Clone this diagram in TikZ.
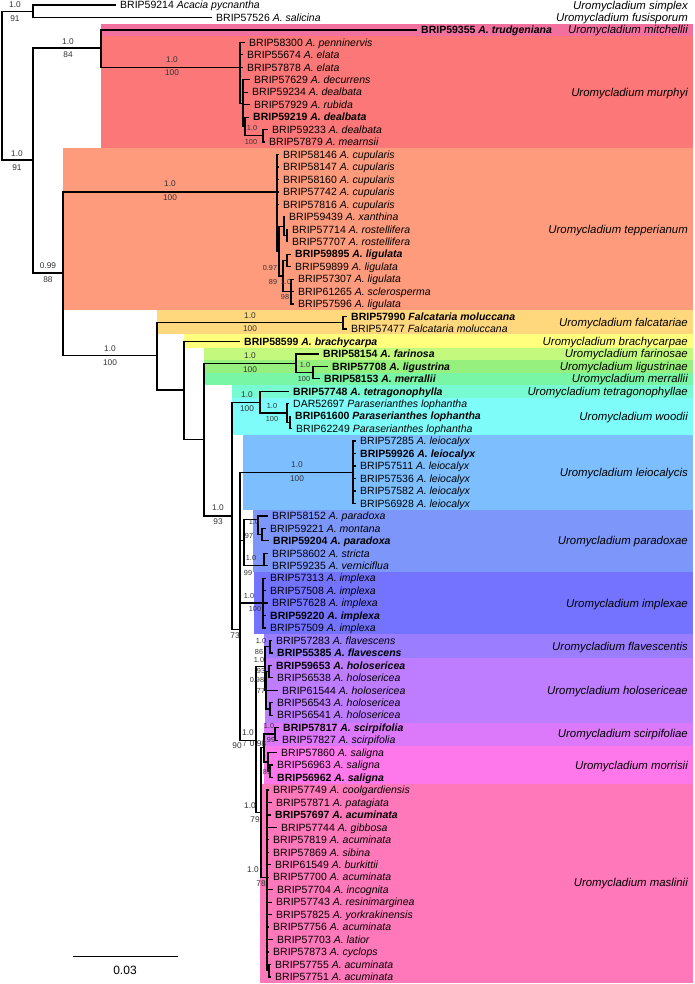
\documentclass[tikz,border=0pt]{standalone}
\usepackage{fontspec}
\setmainfont{Liberation Sans}
\usepackage{tikz}

\definecolor{cmitch}{RGB}{242,112,158}
\definecolor{cmurph}{RGB}{252,120,120}
\definecolor{ctepp}{RGB}{255,155,125}
\definecolor{cfalc}{RGB}{255,215,125}
\definecolor{cbrach}{RGB}{255,255,125}
\definecolor{cfari}{RGB}{195,250,125}
\definecolor{cligu}{RGB}{150,240,125}
\definecolor{cmerr}{RGB}{120,245,165}
\definecolor{ctetr}{RGB}{120,250,210}
\definecolor{cwood}{RGB}{125,252,250}
\definecolor{cleio}{RGB}{125,190,255}
\definecolor{cpara}{RGB}{125,150,250}
\definecolor{cimpl}{RGB}{115,115,255}
\definecolor{cflav}{RGB}{155,125,255}
\definecolor{cholo}{RGB}{190,125,255}
\definecolor{cscir}{RGB}{220,120,250}
\definecolor{cmorr}{RGB}{255,120,235}
\definecolor{cmasl}{RGB}{255,120,185}

\begin{document}
\begin{tikzpicture}[x=1pt, y=-12.46pt,
    branch/.style={draw=black, line width=1.25pt},
    tip/.style={anchor=west, inner xsep=4pt, inner ysep=0pt, text height=7.5pt, text depth=0pt, font=\fontsize{10.5}{12}\selectfont},
    tipb/.style={tip, font=\fontsize{10.5}{12}\selectfont\bfseries},
    clade/.style={anchor=east, inner sep=0pt, text height=8pt, text depth=0pt, font=\fontsize{11.4}{13}\selectfont\itshape},
    supp/.style={inner sep=0pt, text=black!80, text height=5.9pt, text depth=0pt, font=\fontsize{8.3}{10}\selectfont},
    supps/.style={supp, text height=5.2pt, font=\fontsize{7.3}{9}\selectfont},
]
\useasboundingbox (0,0.5987) rectangle (694,79.57);
\fill[white] (0,0.5987) rectangle (694,79.57);

% background bands
\fill[cmitch] (101,2.5) rectangle (693,3.5);
\fill[cmurph] (101,3.5) rectangle (693,12.5);
\fill[ctepp] (63,12.5) rectangle (693,25.5);
\fill[cfalc] (157,25.5) rectangle (693,27.4);
\fill[cbrach] (184,27.4) rectangle (693,28.5);
\fill[cfari] (204,28.5) rectangle (693,29.5);
\fill[cligu] (204,29.5) rectangle (693,30.5);
\fill[cmerr] (204,30.5) rectangle (693,31.5);
\fill[ctetr] (232,31.5) rectangle (693,32.5);
\fill[cwood] (232,32.5) rectangle (693,35.5);
\fill[cleio] (243,35.5) rectangle (693,41.5);
\fill[cpara] (253,41.5) rectangle (693,46.5);
\fill[cimpl] (254,46.5) rectangle (693,51.5);
\fill[cflav] (264,51.5) rectangle (693,53.4);
\fill[cholo] (265,53.4) rectangle (693,58.6);
\fill[cscir] (264,58.6) rectangle (693,60.5);
\fill[cmorr] (264,60.5) rectangle (693,63.5);
\fill[cmasl] (260,63.5) rectangle (693,79.45);

% tips
\node[tip] (b59214) at (116,1) {BRIP59214 \textit{Acacia pycnantha}};
\node[tip] (b57526) at (212,2) {BRIP57526 \textit{A. salicina}};
\node[tipb] (b59355) at (417,3) {BRIP59355 \textit{A. trudgeniana}};
\node[tip] (b58300) at (245,4) {BRIP58300 \textit{A. penninervis}};
\node[tip] (b55674) at (243,5) {BRIP55674 \textit{A. elata}};
\node[tip] (b57878) at (243,6) {BRIP57878 \textit{A. elata}};
\node[tip] (b57629) at (250,7) {BRIP57629 \textit{A. decurrens}};
\node[tip] (b59234) at (248,8) {BRIP59234 \textit{A. dealbata}};
\node[tip] (b57929) at (250,9) {BRIP57929 \textit{A. rubida}};
\node[tipb] (b59219) at (249,10) {BRIP59219 \textit{A. dealbata}};
\node[tip] (b59233) at (268,11) {BRIP59233 \textit{A. dealbata}};
\node[tip] (b57879) at (265,12) {BRIP57879 \textit{A. mearnsii}};
\node[tip] (b58146) at (279,13) {BRIP58146 \textit{A. cupularis}};
\node[tip] (b58147) at (279,14) {BRIP58147 \textit{A. cupularis}};
\node[tip] (b58160) at (279,15) {BRIP58160 \textit{A. cupularis}};
\node[tip] (b57742) at (279,16) {BRIP57742 \textit{A. cupularis}};
\node[tip] (b57816) at (279,17) {BRIP57816 \textit{A. cupularis}};
\node[tip] (b59439) at (285,18) {BRIP59439 \textit{A. xanthina}};
\node[tip] (b57714) at (288,19) {BRIP57714 \textit{A. rostellifera}};
\node[tip] (b57707) at (288,20) {BRIP57707 \textit{A. rostellifera}};
\node[tipb] (b59895) at (291,21) {BRIP59895 \textit{A. ligulata}};
\node[tip] (b59899) at (291,22) {BRIP59899 \textit{A. ligulata}};
\node[tip] (b57307) at (294,23) {BRIP57307 \textit{A. ligulata}};
\node[tip] (b61265) at (294,24) {BRIP61265 \textit{A. sclerosperma}};
\node[tip] (b57596) at (294,25) {BRIP57596 \textit{A. ligulata}};
\node[tipb] (b57990) at (347,26) {BRIP57990 \textit{Falcataria moluccana}};
\node[tip] (b57477) at (347,27) {BRIP57477 \textit{Falcataria moluccana}};
\node[tipb] (b58599) at (240,28) {BRIP58599 \textit{A. brachycarpa}};
\node[tipb] (b58154) at (319,29) {BRIP58154 \textit{A. farinosa}};
\node[tipb] (b57708) at (328,30) {BRIP57708 \textit{A. ligustrina}};
\node[tipb] (b58153) at (320,31) {BRIP58153 \textit{A. merrallii}};
\node[tipb] (b57748) at (289,32) {BRIP57748 \textit{A. tetragonophylla}};
\node[tip] (d52697) at (289,33) {DAR52697 \textit{Paraserianthes lophantha}};
\node[tipb] (b61600) at (291,34) {BRIP61600 \textit{Paraserianthes lophantha}};
\node[tip] (b62249) at (292,35) {BRIP62249 \textit{Paraserianthes lophantha}};
\node[tip] (b57285) at (356,36) {BRIP57285 \textit{A. leiocalyx}};
\node[tipb] (b59926) at (356,37) {BRIP59926 \textit{A. leiocalyx}};
\node[tip] (b57511) at (356,38) {BRIP57511 \textit{A. leiocalyx}};
\node[tip] (b57536) at (356,39) {BRIP57536 \textit{A. leiocalyx}};
\node[tip] (b57582) at (356,40) {BRIP57582 \textit{A. leiocalyx}};
\node[tip] (b56928) at (356,41) {BRIP56928 \textit{A. leiocalyx}};
\node[tip] (b58152) at (268,42) {BRIP58152 \textit{A. paradoxa}};
\node[tip] (b59221) at (266,43) {BRIP59221 \textit{A. montana}};
\node[tipb] (b59204) at (269,44) {BRIP59204 \textit{A. paradoxa}};
\node[tip] (b58602) at (268,45) {BRIP58602 \textit{A. stricta}};
\node[tip] (b59235) at (268,46) {BRIP59235 \textit{A. verniciflua}};
\node[tip] (b57313) at (266,47) {BRIP57313 \textit{A. implexa}};
\node[tip] (b57508) at (266,48) {BRIP57508 \textit{A. implexa}};
\node[tip] (b57628) at (268,49) {BRIP57628 \textit{A. implexa}};
\node[tipb] (b59220) at (266,50) {BRIP59220 \textit{A. implexa}};
\node[tip] (b57509) at (266,51) {BRIP57509 \textit{A. implexa}};
\node[tip] (b57283) at (272,52) {BRIP57283 \textit{A. flavescens}};
\node[tipb] (b55385) at (273,53) {BRIP55385 \textit{A. flavescens}};
\node[tipb] (b59653) at (272,54) {BRIP59653 \textit{A. holosericea}};
\node[tip] (b56538) at (273,55) {BRIP56538 \textit{A. holosericea}};
\node[tip] (b61544) at (278,56) {BRIP61544 \textit{A. holosericea}};
\node[tip] (b56543) at (273,57) {BRIP56543 \textit{A. holosericea}};
\node[tip] (b56541) at (273,58) {BRIP56541 \textit{A. holosericea}};
\node[tipb] (b57817) at (279,59) {BRIP57817 \textit{A. scirpifolia}};
\node[tip] (b57827) at (278,60) {BRIP57827 \textit{A. scirpifolia}};
\node[tip] (b57860) at (277,61) {BRIP57860 \textit{A. saligna}};
\node[tip] (b56963) at (273,62) {BRIP56963 \textit{A. saligna}};
\node[tipb] (b56962) at (273,63) {BRIP56962 \textit{A. saligna}};
\node[tip] (b57749) at (269,64) {BRIP57749 \textit{A. coolgardiensis}};
\node[tip] (b57871) at (272,65) {BRIP57871 \textit{A. patagiata}};
\node[tipb] (b57697) at (271,66) {BRIP57697 \textit{A. acuminata}};
\node[tip] (b57744) at (277,67) {BRIP57744 \textit{A. gibbosa}};
\node[tip] (b57819) at (269,68) {BRIP57819 \textit{A. acuminata}};
\node[tip] (b57869) at (269,69) {BRIP57869 \textit{A. sibina}};
\node[tip] (b61549) at (271,70) {BRIP61549 \textit{A. burkittii}};
\node[tip] (b57700) at (269,71) {BRIP57700 \textit{A. acuminata}};
\node[tip] (b57704) at (273,72) {BRIP57704 \textit{A. incognita}};
\node[tip] (b57743) at (272,73) {BRIP57743 \textit{A. resinimarginea}};
\node[tip] (b57825) at (272,74) {BRIP57825 \textit{A. yorkrakinensis}};
\node[tip] (b57756) at (269,75) {BRIP57756 \textit{A. acuminata}};
\node[tip] (b57703) at (273,76) {BRIP57703 \textit{A. latior}};
\node[tip] (b57873) at (269,77) {BRIP57873 \textit{A. cyclops}};
\node[tip] (b57755) at (271,78) {BRIP57755 \textit{A. acuminata}};
\node[tip] (b57751) at (271,79) {BRIP57751 \textit{A. acuminata}};

% inner nodes
\coordinate (root) at (2,7.5);
\coordinate (outg) at (33,1.5);
\coordinate (ingr) at (33,13.44);
\coordinate (mitmur) at (101,4.45);
\coordinate (mur0) at (240,6);
\coordinate (mur1) at (243,8.9);
\coordinate (mur2) at (245,10.75);
\coordinate (mur3) at (263,11.5);
\coordinate (rest) at (63,22.5);
\coordinate (tep0) at (277,16);
\coordinate (tep1) at (279,20.75);
\coordinate (tep2) at (284,18.75);
\coordinate (tep2b) at (287,19.5);
\coordinate (tep3) at (283,22.75);
\coordinate (tep3a) at (287,21.5);
\coordinate (tep4) at (291,24);
\coordinate (afr) at (157,29.15);
\coordinate (falc) at (343,26.5);
\coordinate (brach) at (184,31.9);
\coordinate (core) at (204,35.9);
\coordinate (far) at (296,29.75);
\coordinate (far2) at (313,30.5);
\coordinate (pli) at (232,42);
\coordinate (wood0) at (260,32.9);
\coordinate (wood1) at (287,33.75);
\coordinate (wood2) at (290,34.5);
\coordinate (jul) at (240,51.1);
\coordinate (leio) at (353,38.5);
\coordinate (para0) at (244,44);
\coordinate (para1) at (258,42.3);
\coordinate (para1b) at (262,43.5);
\coordinate (para2) at (264,46);
\coordinate (impl) at (263,49);
\coordinate (kk) at (256,60);
\coordinate (flho) at (265,54.1);
\coordinate (flav) at (270,52.5);
\coordinate (holo) at (266,56);
\coordinate (holoa) at (269,54.5);
\coordinate (holob) at (270,57.5);
\coordinate (smm) at (261,65.8);
\coordinate (scmo) at (264,60.6);
\coordinate (scir) at (275,59.5);
\coordinate (morr) at (268,61.75);
\coordinate (morr2) at (270,62.5);
\coordinate (masl) at (267,71);
\coordinate (masl2) at (269,78.5);

% branches
\draw[branch] (root) |- (outg) (root) |- (ingr);
\draw[branch] (outg) |- (b59214.west) (outg) |- (b57526.west);
\draw[branch] (ingr) |- (mitmur) (ingr) |- (rest);
\draw[branch] (mitmur) |- (b59355.west) (mitmur) |- (mur0);
\draw[branch] (mur0) |- (b58300.west) (mur0) |- (b55674.west) (mur0) |- (b57878.west) (mur0) |- (mur1);
\draw[branch] (mur1) |- (b57629.west) (mur1) |- (b59234.west) (mur1) |- (b57929.west) (mur1) |- (mur2);
\draw[branch] (mur2) |- (b59219.west) (mur2) |- (mur3);
\draw[branch] (mur3) |- (b59233.west) (mur3) |- (b57879.west);
\draw[branch] (rest) |- (tep0) (rest) |- (afr);
\draw[branch] (tep0) |- (b58146.west) (tep0) |- (b58147.west) (tep0) |- (b58160.west) (tep0) |- (b57742.west) (tep0) |- (b57816.west) (tep0) |- (tep1);
\draw[branch] (tep1) |- (tep2) (tep1) |- (tep3);
\draw[branch] (tep2) |- (b59439.west) (tep2) |- (tep2b);
\draw[branch] (tep2b) |- (b57714.west) (tep2b) |- (b57707.west);
\draw[branch] (tep3) |- (tep3a) (tep3) |- (tep4);
\draw[branch] (tep3a) |- (b59895.west) (tep3a) |- (b59899.west);
\draw[branch] (tep4) |- (b57307.west) (tep4) |- (b61265.west) (tep4) |- (b57596.west);
\draw[branch] (afr) |- (falc) (afr) |- (brach);
\draw[branch] (falc) |- (b57990.west) (falc) |- (b57477.west);
\draw[branch] (brach) |- (b58599.west) (brach) |- (core);
\draw[branch] (core) |- (far) (core) |- (pli);
\draw[branch] (far) |- (b58154.west) (far) |- (far2);
\draw[branch] (far2) |- (b57708.west) (far2) |- (b58153.west);
\draw[branch] (pli) |- (wood0) (pli) |- (jul);
\draw[branch] (wood0) |- (b57748.west) (wood0) |- (wood1);
\draw[branch] (wood1) |- (d52697.west) (wood1) |- (wood2);
\draw[branch] (wood2) |- (b61600.west) (wood2) |- (b62249.west);
\draw[branch] (jul) |- (leio) (jul) |- (para0) (jul) |- (impl) (jul) |- (kk);
\draw[branch] (leio) |- (b57285.west) (leio) |- (b59926.west) (leio) |- (b57511.west) (leio) |- (b57536.west) (leio) |- (b57582.west) (leio) |- (b56928.west);
\draw[branch] (para0) |- (para1) (para0) |- (para2);
\draw[branch] (para1) |- (b58152.west) (para1) |- (para1b);
\draw[branch] (para1b) |- (b59221.west) (para1b) |- (b59204.west);
\draw[branch] (para2) |- (b58602.west) (para2) |- (b59235.west);
\draw[branch] (impl) |- (b57313.west) (impl) |- (b57508.west) (impl) |- (b57628.west) (impl) |- (b59220.west) (impl) |- (b57509.west);
\draw[branch] (kk) |- (flho) (kk) |- (smm);
\draw[branch] (flho) |- (flav) (flho) |- (holo);
\draw[branch] (flav) |- (b57283.west) (flav) |- (b55385.west);
\draw[branch] (holo) |- (holoa) (holo) |- (b61544.west) (holo) |- (holob);
\draw[branch] (holoa) |- (b59653.west) (holoa) |- (b56538.west);
\draw[branch] (holob) |- (b56543.west) (holob) |- (b56541.west);
\draw[branch] (smm) |- (scmo) (smm) |- (masl);
\draw[branch] (scmo) |- (scir) (scmo) |- (morr);
\draw[branch] (scir) |- (b57817.west) (scir) |- (b57827.west);
\draw[branch] (morr) |- (b57860.west) (morr) |- (morr2);
\draw[branch] (morr2) |- (b56963.west) (morr2) |- (b56962.west);
\draw[branch] (masl) |- (b57749.west) (masl) |- (b57871.west) (masl) |- (b57697.west) (masl) |- (b57744.west) (masl) |- (b57819.west) (masl) |- (b57869.west) (masl) |- (b61549.west);
\draw[branch] (masl) |- (b57700.west) (masl) |- (b57704.west) (masl) |- (b57743.west) (masl) |- (b57825.west) (masl) |- (b57756.west) (masl) |- (b57703.west) (masl) |- (b57873.west) (masl) |- (masl2);
\draw[branch] (masl2) |- (b57755.west) (masl2) |- (b57751.west);

% support values
\node[supp] (pp1) at (15,1.0) {1.0};
\node[supp] (bs1) at (15,2.07) {91};
\node[supp] (pp2) at (17,12.96) {1.0};
\node[supp] (bs2) at (17,14.06) {91};
\node[supp] (pp3) at (68,3.95) {1.0};
\node[supp] (bs3) at (68,4.96) {84};
\node[supp] (pp4) at (172,5.36) {1.0};
\node[supp] (bs4) at (172,6.43) {100};
\node[supps] (pp5) at (252,10.85) {1.0};
\node[supps] (bs5) at (251,11.97) {100};
\node[supp] (pp6) at (48,21.95) {0.99};
\node[supp] (bs6) at (48,23.07) {88};
\node[supp] (pp7) at (170,15.31) {1.0};
\node[supp] (bs7) at (170,16.43) {100};
\node[supps] (pp8) at (270,22.11) {0.97};
\node[supps] (bs8) at (273,23.23) {89};
\node[supps] (pp9) at (286,23.23) {1.0};
\node[supps] (bs9) at (285,24.46) {98};
\node[supp] (pp10) at (110,28.61) {1.0};
\node[supp] (bs10) at (110,29.71) {100};
\node[supp] (pp11) at (250,25.9) {1.0};
\node[supp] (bs11) at (250,26.98) {100};
\node[supp] (pp12) at (250,29.15) {1.0};
\node[supp] (bs12) at (250,30.24) {100};
\node[supps] (pp13) at (305,29.89) {1.0};
\node[supps] (bs13) at (304,31.02) {100};
\node[supp] (pp14) at (218,41.35) {1.0};
\node[supp] (bs14) at (218,42.47) {93};
\node[supp] (pp15) at (247,32.3) {1.0};
\node[supp] (bs15) at (247,33.37) {100};
\node[supps] (pp16) at (272,33.16) {1.0};
\node[supps] (bs16) at (272,34.25) {100};
\node[supp] (pp17) at (297,37.92) {1.0};
\node[supp] (bs17) at (297,38.99) {100};
\node[supp] (bs18) at (235,51.64) {73};
\node[supps] (pp19) at (254,42.47) {1.0};
\node[supps] (bs19) at (249,43.59) {97};
\node[supps] (pp20) at (251,45.41) {1.0};
\node[supps] (bs20) at (248,46.56) {99};
\node[supps] (pp21) at (249,48.41) {1.0};
\node[supps] (bs21) at (255,49.47) {100};
\node[supps] (pp22) at (261,52.04) {1.0};
\node[supps] (bs22) at (259,52.9) {86};
\node[supps] (pp23) at (259,53.57) {1.0};
\node[supps] (bs23) at (261,54.43) {93};
\node[supps] (pp24) at (257,55.17) {0.98};
\node[supps] (bs24) at (261,56.08) {77};
\node[supps] (pp25) at (269,58.87) {1.0};
\node[supps] (bs25) at (271,59.99) {99};
\node[supp] (pp26) at (248,59.4) {1.0};
\node[supp] (bs26) at (237,60.47) {90};
\node[supps] (sl26) at (245,60.3) {/};
\node[supp] (pp27) at (258,60.25) {0.98};
\node[supps] (bs27) at (267,62.53) {89};
\node[supp] (pp28) at (250,65.26) {1.0};
\node[supp] (bs28) at (255,66.41) {79};
\node[supp] (pp29) at (253,70.42) {1.0};
\node[supp] (bs29) at (261,71.54) {78};

% clade names
\node[clade] (usimp) at (688,1) {Uromycladium simplex};
\node[clade] (ufusi) at (688,2) {Uromycladium fusisporum};
\node[clade] (umitc) at (688,3) {Uromycladium mitchellii};
\node[clade] (umurp) at (688,8) {Uromycladium murphyi};
\node[clade] (utepp) at (688,19) {Uromycladium tepperianum};
\node[clade] (ufalc) at (688,26.5) {Uromycladium falcatariae};
\node[clade] (ubrac) at (688,28) {Uromycladium brachycarpae};
\node[clade] (ufari) at (688,29) {Uromycladium farinosae};
\node[clade] (uligu) at (688,30) {Uromycladium ligustrinae};
\node[clade] (umerr) at (688,31) {Uromycladium merrallii};
\node[clade] (utetr) at (688,32) {Uromycladium tetragonophyllae};
\node[clade] (uwood) at (688,34) {Uromycladium woodii};
\node[clade] (uleio) at (688,38.5) {Uromycladium leiocalycis};
\node[clade] (upara) at (688,44) {Uromycladium paradoxae};
\node[clade] (uimpl) at (688,49) {Uromycladium implexae};
\node[clade] (uflav) at (688,52.5) {Uromycladium flavescentis};
\node[clade] (uholo) at (688,56) {Uromycladium holosericeae};
\node[clade] (uscir) at (688,59.5) {Uromycladium scirpifoliae};
\node[clade] (umorr) at (688,62) {Uromycladium morrisii};
\node[clade] (umasl) at (688,71.4) {Uromycladium maslinii};

% scale bar
\coordinate (sbl) at (72.7,77.38);
\coordinate (sbr) at (177.7,77.38);
\draw[line width=1.3pt] (sbl) -- (sbr);
\node[inner sep=0pt, text height=8.6pt, text depth=0pt, font=\fontsize{12}{14}\selectfont] (sblab) at (125,78.5) {0.03};

\end{tikzpicture}
\end{document}
